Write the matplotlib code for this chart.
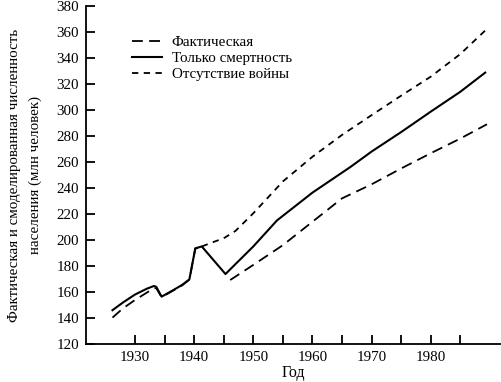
import matplotlib
matplotlib.use("Agg")
import matplotlib.pyplot as plt
import numpy as np

plt.rcParams['font.family'] = ['Liberation Serif', 'DejaVu Serif']

# Только смертность
years_mort = [1926.2, 1928, 1930, 1932, 1933.2, 1933.6, 1934.5, 1936.5, 1938, 1939.2, 1940.2, 1941.3, 1945.3,
              1950, 1954, 1960, 1966.5, 1970, 1975, 1980, 1985, 1989.2]
vals_mort = [146, 152, 158, 162.5, 164.6, 164, 156.4, 161.5, 165.5, 169.7, 193.6, 195, 173.8,
             195, 215, 236.4, 256.4, 268, 283, 298.7, 314, 328.7]

# Фактическая
years_act = [1926.2, 1928, 1930, 1932, 1933.2, 1933.6, 1934.5, 1936.5, 1938, 1939.2, 1940.2, 1941.3,
             1946.1, 1950, 1955, 1960, 1965, 1970, 1975, 1980, 1985, 1989.5]
vals_act = [140.3, 147.5, 153.8, 159.5, 162.8, 163, 156, 161.2, 165.2, 169.5, 193.3, 194.8,
            169.2, 180.8, 196, 214, 232, 242.8, 255, 266.7, 278, 289]

# Отсутствие войны
years_nowar = [1941.3, 1943, 1945, 1947, 1950, 1955, 1960, 1965, 1970, 1975, 1980, 1985, 1989.3]
vals_nowar = [195, 198, 201.3, 207, 220.5, 245, 264, 280.8, 296, 311, 325.6, 343, 361.5]

fig = plt.figure(figsize=(5.02, 3.82), dpi=100)
ax = fig.add_axes([0.171, 0.0995, 0.825, 0.885])

act_x = np.array(years_act)
act_y = np.array(vals_act)
pre = act_x < 1943
ax.plot(act_x[pre], act_y[pre], color='black', lw=1.3, dashes=(6, 3.5), label='Фактическая')
ax.plot(act_x[~pre], act_y[~pre], color='black', lw=1.3, dashes=(6, 3.5))
ax.plot(years_mort, vals_mort, color='black', lw=1.5, label='Только смертность')
ax.plot(years_nowar, vals_nowar, color='black', lw=1.3, dashes=(3.5, 3), label='Отсутствие войны')

ax.set_xlim(1921.7, 1991.7)
ax.set_ylim(120, 380)
ax.set_yticks(np.arange(120, 381, 20))
ax.set_xticks(np.arange(1930, 1981, 10))
ax.set_xticks(np.arange(1935, 1986, 10), minor=True)
ax.tick_params(axis='both', direction='in', length=6.5, width=1.3, labelsize=10.8)
ax.tick_params(axis='x', which='minor', direction='in', length=6.5, width=1.3)
ax.tick_params(axis='x', pad=5)
ax.tick_params(axis='y', pad=5)
for s in ['top', 'right']:
    ax.spines[s].set_visible(False)
ax.spines['left'].set_linewidth(1.3)
ax.spines['bottom'].set_linewidth(1.3)

ax.set_xlabel('Год', fontsize=11.5, labelpad=1)
ax.set_ylabel('Фактическая и смоделированная численность\nнаселения (млн человек)', fontsize=10.8,
              labelpad=10, linespacing=1.75)

leg = ax.legend(loc='upper left', bbox_to_anchor=(132 / 502, 1 - 36 / 382), bbox_transform=fig.transFigure,
                frameon=False, fontsize=10.8, handlelength=2.0, handletextpad=0.65, labelspacing=0.15,
                borderpad=0, borderaxespad=0)

fig.savefig('out.png', dpi=100)
